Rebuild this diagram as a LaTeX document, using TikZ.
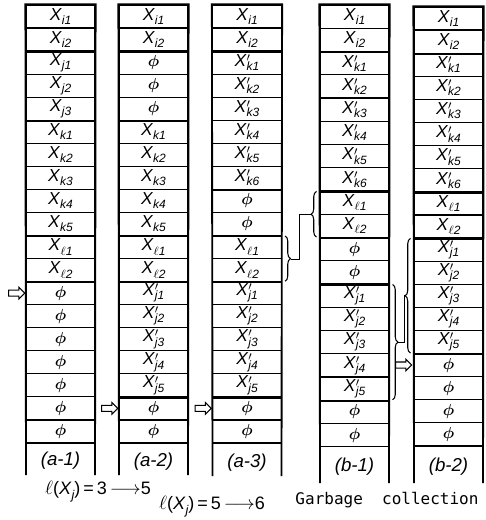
\documentclass[tikz,border=0pt]{standalone}
\usepackage{fontspec}
\setmainfont{Liberation Sans}
\newfontfamily\gcfont{DejaVu Sans Mono}
\usetikzlibrary{calc,shapes.arrows,decorations.pathreplacing}
\newcommand\xs[2]{\textit{X}\raisebox{-0.45ex}{\fontsize{9}{9}\selectfont\itshape #1#2}}
\newcommand\xp[2]{\textit{X}\rlap{\raisebox{-0.1ex}{$^{\prime}$}}\raisebox{-0.45ex}{\fontsize{9}{9}\selectfont\itshape #1#2}}
\newcommand\ph{{\boldmath$\phi$}}
\newcommand\el{$\ell$}
\tikzset{
  cell/.style={draw, line width=0.9pt, minimum width=51.75pt, inner sep=0pt,
    font=\fontsize{13}{14}\selectfont},
  sepline/.style={line width=1.7pt},
  outline/.style={line width=1.4pt},
  hollow/.style={single arrow, draw, line width=0.8pt, inner sep=1.9pt,
    minimum height=12pt, single arrow head extend=2pt, single arrow head indent=0pt},
  bracestyle/.style={line width=0.8pt, decorate, decoration={brace, amplitude=4pt}},
  conn/.style={line width=0.8pt},
  collabel/.style={font=\fontsize{14}{15}\selectfont\itshape}
}
% #1 name, #2 left x, #3 top y, #4 row height, #5 bottom end, #6 label y, #7 label, #8 separators, #9 list
\newcommand\mycol[9]{%
  \foreach \t [count=\i from 0] in {#9} {
    \node[cell, minimum height=#4*0.75pt] (#1-\i) at (#2+34.5, #3+#4*\i+#4/2) {\t};
  }
  \foreach \s in {#8} {\draw[sepline] (#1-\s.south west) -- (#1-\s.south east);}
  \draw[outline] (#2,#5) -- (#1-0.north west) -- (#1-0.north east) -- (#2+69,#5);
  \node[collabel] (#1-lab) at (#2+34.5,#6) {#7};
}
\begin{document}
\begin{tikzpicture}[x=0.75pt,y=-0.75pt]
\useasboundingbox (0,0) rectangle (485,520);

\mycol{a1}{26}{5}{23.05}{475}{461}{(a-1)}{1,4,9,11}{
 {\xs{i}{1}},{\xs{i}{2}},{\xs{j}{1}},{\xs{j}{2}},{\xs{j}{3}},
 {\xs{k}{1}},{\xs{k}{2}},{\xs{k}{3}},{\xs{k}{4}},{\xs{k}{5}},
 {\xs{\el}{1}},{\xs{\el}{2}},\ph,\ph,\ph,\ph,\ph,\ph,\ph}

\mycol{a2}{119}{5}{23.05}{475}{462}{(a-2)}{1,4,9,11,16}{
 {\xs{i}{1}},{\xs{i}{2}},\ph,\ph,\ph,
 {\xs{k}{1}},{\xs{k}{2}},{\xs{k}{3}},{\xs{k}{4}},{\xs{k}{5}},
 {\xs{\el}{1}},{\xs{\el}{2}},
 {\xp{j}{1}},{\xp{j}{2}},{\xp{j}{3}},{\xp{j}{4}},{\xp{j}{5}},\ph,\ph}

\mycol{a3}{212.5}{5}{23.05}{476}{463}{(a-3)}{1,7,9,11,16}{
 {\xs{i}{1}},{\xs{i}{2}},
 {\xp{k}{1}},{\xp{k}{2}},{\xp{k}{3}},{\xp{k}{4}},{\xp{k}{5}},{\xp{k}{6}},
 \ph,\ph,{\xs{\el}{1}},{\xs{\el}{2}},
 {\xp{j}{1}},{\xp{j}{2}},{\xp{j}{3}},{\xp{j}{4}},{\xp{j}{5}},\ph,\ph}

\mycol{b1}{320}{5}{23.25}{483}{467}{(b-1)}{1,7,9,11,16}{
 {\xs{i}{1}},{\xs{i}{2}},
 {\xp{k}{1}},{\xp{k}{2}},{\xp{k}{3}},{\xp{k}{4}},{\xp{k}{5}},{\xp{k}{6}},
 {\xs{\el}{1}},{\xs{\el}{2}},\ph,\ph,
 {\xp{j}{1}},{\xp{j}{2}},{\xp{j}{3}},{\xp{j}{4}},{\xp{j}{5}},\ph,\ph}

\mycol{b2}{414}{7}{23.1}{483}{467}{(b-2)}{1,7,9,14}{
 {\xs{i}{1}},{\xs{i}{2}},
 {\xp{k}{1}},{\xp{k}{2}},{\xp{k}{3}},{\xp{k}{4}},{\xp{k}{5}},{\xp{k}{6}},
 {\xs{\el}{1}},{\xs{\el}{2}},
 {\xp{j}{1}},{\xp{j}{2}},{\xp{j}{3}},{\xp{j}{4}},{\xp{j}{5}},\ph,\ph,\ph,\ph}

% hollow arrows
\node[hollow, anchor=tip] (h0) at (a1-12.west) {};
\node[hollow, anchor=tip] (h1) at (a2-17.west) {};
\node[hollow, anchor=tip] (h2) at (a3-17.west) {};
\node[hollow, anchor=tip] (h3) at ($(b2-15.west)+(-1,0)$) {};

% brace a3 -> b1
\draw[bracestyle] ($(a3-10.north east)+(3,1)$) -- ($(a3-11.south east)+(3,-1)$);
\coordinate (t1) at ($(a3-10.south east)+(8.5,0)$);
\draw[bracestyle] ($(b1-9.south west)+(-3,-1)$) -- ($(b1-8.north west)+(-3,1)$);
\coordinate (t2) at ($(b1-8.south west)+(-8.5,0)$);
\draw[conn] (t1) -- ++(8.5,0) |- (t2);

% brace b1 -> b2
\draw[bracestyle] ($(b1-12.north east)+(3,1)$) -- ($(b1-16.south east)+(3,-1)$);
\coordinate (t3) at ($(b1-14.east)+(8.5,0)$);
\draw[bracestyle] ($(b2-14.south west)+(-3,-1)$) -- ($(b2-10.north west)+(-3,1)$);
\coordinate (t4) at ($(b2-12.west)+(-8.5,0)$);
\draw[conn] (t3) -- ++(6,0) |- (t4);

% bottom texts
\node[font=\fontsize{13.5}{15}\selectfont] (f1) at (98,492)
  {\el(\textit{X}\raisebox{-0.5ex}{\fontsize{9.5}{10}\selectfont\itshape j})\,=\,3\,$\longrightarrow$5};
\node[font=\fontsize{13.5}{15}\selectfont] (f2) at (212,507)
  {\el(\textit{X}\raisebox{-0.5ex}{\fontsize{9.5}{10}\selectfont\itshape j})\,=\,5\,$\longrightarrow$6};
\node[font=\gcfont\fontsize{12}{14}\selectfont] (gc) at (387,500) {Garbage\ \ collection};
\end{tikzpicture}
\end{document}
